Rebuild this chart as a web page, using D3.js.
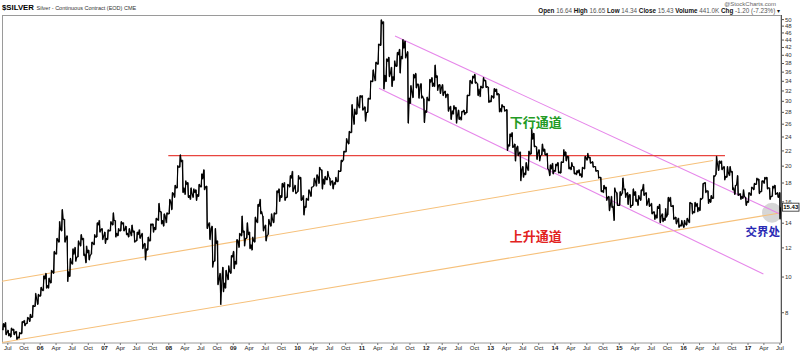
<!DOCTYPE html>
<html>
<head>
<meta charset="utf-8">
<script src="https://cdnjs.cloudflare.com/ajax/libs/d3/7.8.5/d3.min.js"></script>
<style>
    body { margin: 0; background: #fff; }
    svg { display: block; font-family: "Liberation Sans", Arial, sans-serif; }
</style>
</head>
<body>
<svg id="chart" width="800" height="354"></svg>
<script>
// Half-month bars of $SILVER (continuous contract). One row per year.
const highs = [
    7.45, 7.50, 7.15, 7.25, 7.20, 7.10, 7.05, 7.55, 7.60, 7.75, 7.90, 8.35, 9.00, 8.95,
    9.35, 10.05, 10.20, 9.90, 10.40, 11.70, 12.70, 14.10, 15.20, 14.30, 12.90, 11.20, 11.90, 12.00, 12.50, 13.00, 12.70, 12.10, 11.80, 12.40, 13.00, 14.00, 14.20, 13.50,
    13.20, 13.40, 14.10, 14.90, 14.20, 13.50, 14.10, 14.00, 13.70, 13.50, 13.80, 13.30, 13.20, 13.40, 13.10, 12.30, 12.80, 13.90, 13.90, 14.40, 15.80, 15.00, 14.80, 14.90,
    16.20, 16.90, 17.70, 20.00, 21.40, 20.70, 18.20, 18.00, 17.40, 17.30, 17.20, 17.80, 19.00, 19.50, 17.60, 14.00, 13.70, 13.50, 12.50, 10.20, 10.60, 10.40, 10.70, 11.40,
    11.70, 12.60, 13.10, 14.60, 13.30, 14.00, 13.20, 12.80, 14.50, 15.70, 16.20, 14.60, 13.80, 14.30, 14.80, 14.90, 17.10, 17.30, 17.90, 18.00, 17.80, 18.80, 19.30, 17.70,
    18.80, 18.60, 16.60, 16.30, 17.20, 17.50, 18.50, 18.90, 19.80, 19.50, 18.70, 19.30, 18.50, 18.20, 18.60, 19.40, 20.70, 21.90, 23.70, 24.80, 29.30, 28.50, 30.70, 31.00,
    31.00, 28.90, 30.50, 34.00, 36.40, 38.20, 42.80, 49.80, 49.20, 39.00, 39.40, 37.00, 38.50, 40.60, 41.40, 44.00, 43.60, 40.80, 33.00, 35.40, 35.60, 33.30, 33.40, 30.40,
    30.70, 34.30, 34.70, 37.50, 35.10, 33.20, 33.20, 31.90, 31.30, 29.00, 29.10, 28.80, 28.30, 28.10, 28.30, 31.10, 34.10, 35.00, 35.40, 33.40, 32.90, 34.70, 34.10, 32.70,
    31.00, 32.40, 32.30, 31.30, 29.30, 29.00, 28.40, 24.40, 24.60, 22.90, 22.60, 21.80, 19.90, 20.40, 21.90, 25.10, 24.50, 22.50, 22.10, 22.90, 22.20, 21.60, 20.10, 20.30,
    20.20, 20.40, 20.50, 22.10, 21.80, 21.20, 20.40, 19.90, 19.40, 19.50, 19.80, 21.20, 21.60, 21.10, 20.50, 19.90, 19.40, 18.60, 17.70, 17.50, 16.50, 16.50, 17.40, 16.90,
    17.00, 18.50, 17.30, 16.90, 16.70, 17.30, 17.00, 16.60, 17.20, 17.80, 16.90, 16.30, 15.80, 15.00, 15.50, 15.70, 14.80, 15.30, 16.40, 16.40, 15.60, 14.50, 14.40, 14.20,
    14.20, 14.40, 15.90, 15.80, 15.90, 15.80, 16.30, 17.90, 18.00, 17.10, 16.60, 18.80, 21.20, 20.60, 20.60, 19.90, 19.90, 19.90, 19.30, 17.70, 18.80, 16.80, 17.20, 16.40,
    16.90, 17.50, 17.90, 18.50, 18.40, 18.20, 18.60, 18.60, 17.40, 17.60, 17.70, 16.90, 16.90
];
const lows = [
    7.15, 6.95, 6.90, 6.85, 6.95, 6.75, 6.80, 7.00, 7.35, 7.45, 7.55, 7.75, 8.30, 8.40,
    8.85, 9.15, 9.30, 9.30, 9.60, 10.20, 11.50, 12.40, 13.30, 12.40, 9.70, 10.00, 10.80, 11.00, 11.30, 12.10, 11.40, 10.90, 11.10, 11.50, 12.20, 12.80, 13.20, 12.60,
    12.30, 12.60, 13.30, 13.80, 12.80, 12.90, 13.30, 13.30, 13.00, 12.80, 12.90, 12.40, 12.50, 12.70, 11.90, 11.10, 11.80, 12.50, 13.20, 13.40, 14.20, 13.90, 13.70, 14.00,
    14.80, 15.20, 16.40, 17.40, 19.80, 16.90, 16.70, 16.40, 16.20, 16.40, 16.10, 16.50, 17.50, 17.20, 13.50, 12.60, 10.60, 11.00, 9.50, 8.40, 9.10, 9.30, 9.80, 10.20,
    10.50, 10.80, 12.00, 12.90, 12.10, 12.70, 11.90, 11.80, 12.40, 14.00, 14.80, 13.30, 12.50, 13.00, 13.70, 14.00, 14.80, 16.00, 16.40, 16.10, 16.40, 17.50, 17.00, 16.80,
    17.00, 16.10, 14.70, 15.40, 16.10, 16.50, 17.60, 17.60, 17.90, 17.30, 17.80, 18.30, 17.70, 17.30, 17.80, 18.10, 19.30, 20.70, 21.80, 22.90, 24.60, 25.90, 27.60, 28.70,
    28.30, 26.40, 27.90, 30.30, 33.80, 34.00, 37.70, 42.40, 32.30, 33.80, 34.90, 32.80, 34.10, 37.20, 35.70, 39.00, 39.20, 26.10, 29.50, 30.60, 32.50, 30.50, 30.50, 26.20,
    27.90, 30.00, 32.80, 32.80, 32.00, 31.40, 31.00, 30.60, 28.10, 26.70, 27.60, 26.10, 26.70, 26.60, 27.50, 27.80, 31.00, 33.40, 33.50, 31.00, 30.80, 32.50, 32.60, 29.70,
    29.80, 30.50, 31.10, 28.00, 28.00, 28.10, 22.00, 22.60, 22.40, 20.60, 21.30, 18.20, 18.60, 18.90, 19.40, 21.50, 22.50, 20.80, 20.60, 21.40, 21.40, 19.60, 18.80, 19.00,
    19.30, 19.10, 19.10, 20.40, 20.60, 19.60, 19.50, 19.00, 18.90, 18.80, 18.60, 19.60, 20.70, 20.30, 19.80, 19.30, 18.50, 17.00, 16.90, 16.10, 15.10, 15.40, 14.20, 15.60,
    15.60, 16.80, 16.40, 15.70, 15.40, 15.60, 16.00, 15.60, 16.10, 16.60, 15.60, 15.50, 14.80, 14.30, 14.40, 14.00, 14.10, 14.20, 14.70, 15.50, 14.30, 13.90, 13.60, 13.70,
    13.60, 13.80, 14.00, 14.80, 14.90, 15.00, 15.10, 16.30, 16.90, 15.80, 15.90, 16.30, 18.90, 19.40, 19.50, 18.30, 18.60, 18.80, 17.20, 16.70, 16.60, 16.20, 16.30, 15.60,
    15.90, 16.60, 17.20, 17.80, 16.80, 17.00, 17.90, 17.30, 16.20, 16.50, 16.70, 16.40, 14.34
];
const closes = [
    7.30, 7.05, 7.00, 7.15, 7.05, 6.85, 7.00, 7.50, 7.45, 7.70, 7.75, 8.30, 8.70, 8.85,
    9.20, 9.85, 9.45, 9.70, 10.30, 11.55, 12.55, 13.40, 14.30, 12.70, 10.30, 10.90, 11.50, 11.30, 12.30, 12.60, 11.50, 11.60, 11.40, 12.30, 12.80, 13.80, 13.40, 12.90,
    12.70, 13.30, 13.90, 14.20, 13.10, 13.30, 13.90, 13.40, 13.10, 13.20, 13.20, 12.50, 13.00, 12.90, 12.20, 11.90, 12.50, 13.80, 13.60, 14.30, 15.00, 14.20, 14.60, 14.80,
    16.00, 16.80, 17.40, 19.80, 20.50, 17.40, 17.80, 16.60, 16.80, 16.90, 16.70, 17.60, 18.40, 17.50, 13.80, 13.50, 11.00, 12.30, 9.80, 9.70, 9.60, 10.10, 10.30, 11.30,
    11.00, 12.50, 13.00, 13.20, 12.70, 13.00, 12.20, 12.50, 14.20, 15.50, 15.00, 13.60, 12.90, 13.90, 14.30, 14.80, 16.90, 16.60, 17.50, 16.40, 17.70, 18.50, 17.30, 16.90,
    18.40, 16.20, 15.50, 16.20, 17.00, 17.50, 18.20, 18.70, 19.50, 18.40, 18.40, 18.70, 18.10, 18.00, 18.10, 19.30, 20.50, 21.80, 23.20, 24.60, 27.50, 27.60, 29.30, 30.70,
    28.50, 27.90, 30.40, 33.90, 35.10, 37.90, 42.60, 48.60, 35.20, 38.40, 35.50, 34.90, 37.30, 40.00, 39.60, 41.70, 39.90, 30.50, 31.80, 34.60, 33.30, 32.70, 30.90, 28.20,
    30.20, 33.70, 33.50, 34.70, 33.10, 32.50, 31.60, 31.20, 28.60, 28.20, 28.50, 27.40, 27.10, 28.00, 27.90, 31.00, 33.80, 34.60, 33.70, 32.30, 32.60, 34.00, 32.80, 30.00,
    30.80, 31.80, 31.40, 28.60, 28.90, 28.30, 22.80, 24.00, 22.50, 22.30, 21.60, 19.50, 19.10, 19.70, 21.50, 23.60, 22.60, 21.70, 21.30, 21.90, 21.40, 19.50, 19.60, 19.40,
    20.00, 19.20, 20.40, 21.30, 21.20, 19.80, 19.90, 19.10, 19.10, 19.00, 19.70, 21.00, 21.00, 20.40, 19.90, 19.40, 18.60, 17.10, 17.30, 16.40, 15.60, 15.50, 17.00, 15.60,
    16.60, 17.20, 16.80, 16.60, 15.60, 16.60, 16.20, 16.30, 17.10, 16.80, 15.90, 15.60, 14.90, 14.70, 15.30, 14.60, 14.40, 14.50, 16.00, 15.50, 14.40, 14.10, 13.80, 13.80,
    13.90, 14.20, 15.80, 15.00, 15.50, 15.40, 16.20, 17.90, 17.10, 16.20, 16.30, 18.70, 20.20, 20.30, 19.70, 18.70, 19.10, 19.20, 17.40, 17.70, 16.70, 16.50, 16.50, 16.00,
    16.80, 17.40, 17.80, 18.30, 17.00, 18.20, 18.40, 17.40, 16.50, 17.40, 16.80, 16.60, 15.43
];

// Trend lines drawn on the chart: [start date, price] -> [end date, price]
const resistanceLine = [["2008-01-01", 21.3], ["2016-08-26", 21.3]];
const risingTop = [["2005-06-01", 9.71], ["2016-06-19", 20.66]];
const risingBottom = [["2005-06-01", 6.62], ["2017-07-04", 14.88]];
const fallingTop = [["2011-07-11", 44.98], ["2017-07-04", 14.79]];
const fallingBottom = [["2011-04-11", 32.44], ["2017-04-01", 10.16]];

const yTicks = [8, 10, 12, 14, 16, 18, 20, 22, 24, 26, 28, 30, 32, 34, 36, 38, 40, 42, 44, 46, 48, 50];
const lastClose = 15.43;

const svg = d3.select("#chart");
const parse = d3.timeParse("%Y-%m-%d");

// half-month periods: 1st and 16th of every month, Jun 2005 .. early Jul 2017
const periods = [];
d3.timeMonth.range(new Date(2005, 5, 1), new Date(2017, 7, 1)).forEach((m) => {
    periods.push(m);
    periods.push(new Date(m.getFullYear(), m.getMonth(), 16));
});
periods.length = closes.length;
const lastDay = new Date(2017, 6, 8);
const periodEnd = (i) => i < periods.length - 1 ? periods[i + 1] : lastDay;

const x = d3.scaleTime()
    .domain([new Date(2005, 5, 1), new Date(2017, 6, 10)])
    .range([2, 781]);

const y = d3.scaleLog()
    .domain([6.6, 51.3])
    .range([343, 15]);

// Frame
svg.append("rect")
    .attr("x", 2.5).attr("y", 15.5)
    .attr("width", 778.5).attr("height", 327.5)
    .attr("fill", "none")
    .attr("stroke", "#9a9a9a");

// Price path: zigzag through each period's high/low to its close
const pts = [];
periods.forEach((p, i) => {
    const span = periodEnd(i) - p;
    const prev = i > 0 ? closes[i - 1] : closes[0];
    const up = closes[i] >= prev;
    const first = up ? lows[i] : highs[i];
    const second = up ? highs[i] : lows[i];
    pts.push([new Date(+p + span * 0.25), first]);
    pts.push([new Date(+p + span * 0.6), second]);
    pts.push([new Date(+p + span * 0.9), closes[i]]);
});

const priceLine = d3.line()
    .x((d) => x(d[0]))
    .y((d) => y(d[1]));

const trendLine = d3.line()
    .x((d) => x(parse(d[0])))
    .y((d) => y(d[1]));

// highlight where the two channels meet
svg.append("circle")
    .attr("cx", x(parse("2017-05-20")))
    .attr("cy", y(14.9))
    .attr("r", 10)
    .attr("fill", "#c8c8c8")
    .attr("opacity", 0.75);

[
    [risingTop, "#f6c07a"],
    [risingBottom, "#f6c07a"],
    [fallingTop, "#e687ea"],
    [fallingBottom, "#e687ea"],
    [resistanceLine, "#e8453f"],
].forEach(([line, color]) => {
    svg.append("path")
        .attr("d", trendLine(line))
        .attr("fill", "none")
        .attr("stroke", color)
        .attr("stroke-width", 1.1);
});

// vertical high-low bars
svg.append("g")
    .selectAll("line")
    .data(periods)
    .enter()
    .append("line")
    .attr("x1", (d, i) => x(new Date(+d + (periodEnd(i) - d) * 0.45)))
    .attr("x2", (d, i) => x(new Date(+d + (periodEnd(i) - d) * 0.45)))
    .attr("y1", (d, i) => y(highs[i]))
    .attr("y2", (d, i) => y(lows[i]))
    .attr("stroke", "#111")
    .attr("stroke-width", 1);

svg.append("path")
    .attr("d", priceLine(pts))
    .attr("fill", "none")
    .attr("stroke", "#000")
    .attr("stroke-width", 1.15)
    .attr("stroke-linejoin", "round");

// Right price axis
const yAxis = svg.append("g")
    .attr("transform", "translate(781,0)")
    .call(d3.axisRight(y).tickValues(yTicks).tickSize(3).tickPadding(1).tickFormat(d3.format("d")));
yAxis.select(".domain").attr("stroke", "#555").attr("d", "M0.5,15V343");
yAxis.selectAll(".tick line").attr("stroke", "#555");
yAxis.selectAll("text")
    .attr("fill", "#333")
    .style("font-size", "6px")
    .style("font-family", "'Liberation Sans', Arial, sans-serif");

// last price tag
const tag = svg.append("g").attr("transform", `translate(782,${y(lastClose)})`);
tag.append("rect")
    .attr("x", 0.5).attr("y", -4)
    .attr("width", 16.5).attr("height", 8)
    .attr("fill", "#fff")
    .attr("stroke", "#222")
    .attr("stroke-width", 0.8);
tag.append("text")
    .attr("x", 8.8).attr("y", 2.2)
    .attr("text-anchor", "middle")
    .style("font-size", "6px")
    .style("font-weight", "bold")
    .text(d3.format(".2f")(lastClose));

// Bottom date axis
const xAxis = svg.append("g")
    .attr("transform", "translate(0,343)")
    .call(d3.axisBottom(x)
        .ticks(d3.timeMonth.every(3))
        .tickSize(2)
        .tickPadding(1)
        .tickFormat((d) => d.getMonth() === 0 ? d3.timeFormat("%y")(d) : d3.timeFormat("%b")(d)));
xAxis.select(".domain").remove();
xAxis.selectAll(".tick line").attr("stroke", "#777");
xAxis.selectAll("text")
    .attr("fill", "#222")
    .style("font-size", "6px")
    .style("font-family", "'Liberation Sans', Arial, sans-serif")
    .style("font-weight", (d) => d.getMonth() === 0 ? "bold" : "normal");

// Annotations
const cjk = "'Noto Sans CJK SC', sans-serif";
svg.append("text")
    .attr("x", x(parse("2013-04-22"))).attr("y", 127)
    .attr("fill", "#239b25")
    .style("font-family", cjk).style("font-weight", "bold").style("font-size", "13px")
    .text("下行通道");
svg.append("text")
    .attr("x", x(parse("2013-04-22"))).attr("y", 241)
    .attr("fill", "#e2231e")
    .style("font-family", cjk).style("font-weight", "bold").style("font-size", "13px")
    .text("上升通道");
svg.append("text")
    .attr("x", x(parse("2016-12-20"))).attr("y", 236)
    .attr("fill", "#2a2ab4")
    .style("font-family", cjk).style("font-weight", "bold").style("font-size", "11.5px")
    .text("交界处");

// Header
svg.append("text")
    .attr("x", 2).attr("y", 10)
    .style("font-size", "7.8px").style("font-weight", "bold")
    .text("$SILVER");
svg.append("text")
    .attr("x", 36.5).attr("y", 9.5)
    .attr("fill", "#333")
    .style("font-size", "5.5px")
    .text("Silver - Continuous Contract (EOD) CME");
svg.append("text")
    .attr("x", 776).attr("y", 5.5)
    .attr("text-anchor", "end")
    .attr("fill", "#666")
    .style("font-size", "6px")
    .text("@StockCharts.com");

const quote = [
    ["Open", "16.64"], ["High", "16.65"], ["Low", "14.34"], ["Close", "15.43"],
    ["Volume", "441.0K"], ["Chg", "-1.20 (-7.23%)"]
];
const q = svg.append("text")
    .attr("x", 780).attr("y", 13.3)
    .attr("text-anchor", "end")
    .style("font-size", "6.3px");
quote.forEach(([k, v], i) => {
    q.append("tspan").style("font-weight", "bold").attr("fill", "#111").text((i ? " " : "") + k + " ");
    q.append("tspan").attr("fill", "#555").text(v);
});
q.append("tspan").attr("fill", "#111").text(" ▾");
</script>
</body>
</html>
